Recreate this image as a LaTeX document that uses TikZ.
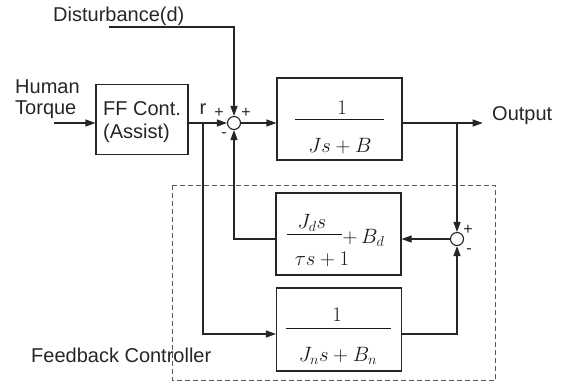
\documentclass[tikz,border=0pt]{standalone}
\usepackage{fontspec}
\setmainfont{Liberation Sans}
\usetikzlibrary{arrows.meta}
\begin{document}
\begin{tikzpicture}[x=1pt,y=-1pt,
  wire/.style={draw=black!85,line width=1.1pt},
  sig/.style={wire,-{Triangle[length=10pt,width=7pt]}},
  blockbox/.style={draw=black!85,line width=1.1pt,inner sep=0pt,
    minimum width=#1},
  sumpt/.style={circle,draw=black!85,line width=1.1pt,fill=white,
    minimum size=13pt,inner sep=0pt},
  lbl/.style={inner sep=0pt,text=black!85,font=\fontsize{20}{24}\selectfont},
  sgn/.style={inner sep=0pt,text=black!85,font=\fontsize{16}{18}\selectfont},
  mth/.style={inner sep=0pt,text=black!90,font=\fontsize{21}{25}\selectfont},
  bar/.style={draw=black!90,line width=1pt}
]
\useasboundingbox (0,0) rectangle (569,386);

% feedback controller frame
\draw[draw=black!65,line width=1pt,dash pattern=on 5pt off 3pt]
  (172.7,185) rectangle (495,380.7);

% blocks
\node[blockbox=92pt,minimum height=70pt] (ff) at (142,119.3) {};
\node[blockbox=125pt,minimum height=82pt] (plant) at (339.5,119) {};
\node[blockbox=125pt,minimum height=82pt] (dfilt) at (338.5,234) {};
\node[blockbox=125pt,minimum height=83pt] (nom) at (339,329.5) {};

% summing junctions
\node[sumpt] (s1) at (234,123) {};
\node[sumpt] (s2) at (457,239) {};

% free ends and branch points
\coordinate (dstart) at (109,27);
\coordinate (hin) at (54,123);
\coordinate (rtap) at (203,123);
\coordinate (otap) at (457,123);
\coordinate (outend) at (482.7,123);

% texts
\node[lbl,anchor=base west] (dist) at (53,21) {Disturbance(d)};
\node[lbl,anchor=base west] (hum) at (15,93) {Human};
\node[lbl,anchor=base west] (tor) at (15,114) {Torque};
\node[lbl,anchor=base west] (ff1) at (103,115) {FF Cont.};
\node[lbl,anchor=base west] (ff2) at (103,138) {(Assist)};
\node[lbl,anchor=base] (rl) at (203,114) {r};
\node[lbl,anchor=base west] (outl) at (492,120) {Output};
\node[lbl,anchor=base west] (fbl) at (31,362) {Feedback Controller};

% signs at the junctions
\node[sgn] (p1) at (219,113) {+};
\node[sgn] (p2) at (246,113) {+};
\node[sgn] (m1) at (224,135) {-};
\node[sgn] (p3) at (468,230) {+};
\node[sgn] (m2) at (469,251) {-};

% plant transfer function
\node[mth] (pn) at (342,107.5) {$1$};
\draw[bar] (295,119.3) -- (384,119.3);
\node[mth] (pd) at (340,146) {$Js+B$};

% disturbance-observer filter
\node[mth] (dn) at (312,223) {$J_d s$};
\draw[bar] (287,234) -- (342,234);
\node[mth,anchor=west] (db) at (342.5,238) {$+\,B_d$};
\node[mth] (dd) at (322,259) {$\tau s+1$};

% nominal model
\node[mth] (nn) at (337,314.6) {$1$};
\draw[bar] (286,328.3) -- (391,328.3);
\node[mth] (nd) at (338,356) {$J_n s+B_n$};

% connectors
\draw[sig] (dstart) -| (s1);
\draw[sig] (hin) -- ([yshift=-3.7pt]ff.west);
\draw[sig] ([yshift=-3.7pt]ff.east) -- (s1);
\draw[sig] (s1) -- ([yshift=-4pt]plant.west);
\draw[sig] ([yshift=-4pt]plant.east) -- (outend);
\draw[sig] (otap) -- (s2);
\draw[sig] (s2) -- ([yshift=-5pt]dfilt.east);
\draw[sig] ([yshift=-5pt]dfilt.west) -| (s1);
\draw[sig] ([yshift=-4.5pt]nom.east) -| (s2);
\draw[sig] (rtap) |- ([yshift=-4.5pt]nom.west);
\end{tikzpicture}
\end{document}
